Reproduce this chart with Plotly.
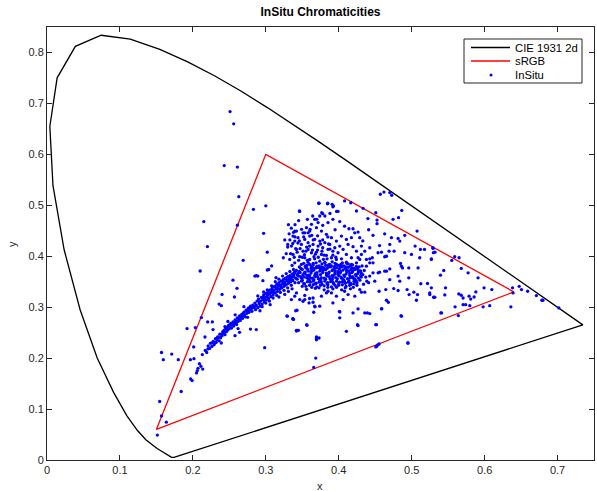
import plotly.graph_objects as go

# CIE 1931 2-degree spectral locus, 380-700 nm (5 nm)
cie_x = [0.1741,0.1740,0.1738,0.1736,0.1733,0.1730,0.1726,0.1721,0.1714,0.1703,0.1689,0.1669,0.1644,0.1611,0.1566,0.1510,
         0.1440,0.1355,0.1241,0.1096,0.0913,0.0687,0.0454,0.0235,0.0082,0.0039,0.0139,0.0389,0.0743,0.1142,0.1547,0.1929,
         0.2296,0.2658,0.3016,0.3373,0.3731,0.4087,0.4441,0.4788,0.5125,0.5448,0.5752,0.6029,0.6270,0.6482,0.6658,0.6801,
         0.6915,0.7006,0.7079,0.7140,0.7190,0.7230,0.7260,0.7283,0.7300,0.7311,0.7320,0.7327,0.7334,0.7340,0.7344,0.7346,0.7347,0.1741]
cie_y = [0.0050,0.0050,0.0049,0.0049,0.0048,0.0048,0.0048,0.0048,0.0051,0.0058,0.0069,0.0086,0.0109,0.0138,0.0177,0.0227,
         0.0297,0.0399,0.0578,0.0868,0.1327,0.2007,0.2950,0.4127,0.5384,0.6548,0.7502,0.8120,0.8338,0.8262,0.8059,0.7816,
         0.7543,0.7243,0.6923,0.6589,0.6245,0.5896,0.5547,0.5202,0.4866,0.4544,0.4242,0.3965,0.3725,0.3514,0.3340,0.3197,
         0.3083,0.2993,0.2920,0.2859,0.2809,0.2770,0.2740,0.2717,0.2700,0.2689,0.2680,0.2673,0.2666,0.2660,0.2656,0.2654,0.2653,0.0050]

# sRGB gamut triangle
srgb_x = [0.64, 0.30, 0.15, 0.64]
srgb_y = [0.33, 0.60, 0.06, 0.33]

legend_labels = ["CIE 1931 2d", "sRGB", "InSitu"]

# InSitu chromaticities, grouped by region
pts_isolated = [(0.251,0.684),(0.256,0.660),(0.243,0.578),(0.261,0.575),(0.263,0.517),(0.283,0.492),(0.300,0.499),(0.215,0.468),
    (0.261,0.461),(0.220,0.419),(0.210,0.371),(0.269,0.392),(0.287,0.362),(0.302,0.373),(0.308,0.381),(0.255,0.353),(0.2605,0.337),
    (0.285,0.361),(0.296,0.352),(0.240,0.325),(0.257,0.320),(0.236,0.306),(0.239,0.303),(0.297,0.445),(0.302,0.408),(0.304,0.374),
    (0.289,0.361),(0.330,0.423),(0.3397,0.449),(0.3534,0.446)]

pts_tail = [(0.157,0.211),(0.1595,0.197),(0.171,0.208),(0.180,0.197),(0.1966,0.197),(0.2015,0.199),(0.213,0.207),(0.209,0.189),
    (0.2135,0.1785),(0.207,0.180),(0.205,0.171),(0.197,0.159),(0.199,0.156),(0.184,0.1345),(0.1545,0.1148),(0.157,0.0866),
    (0.1636,0.0742),(0.1513,0.049),(0.192,0.258),(0.2034,0.260),(0.2117,0.2795),(0.2011,0.222),(0.2207,0.218),(0.217,0.215),
    (0.219,0.211),(0.206,0.175),(0.211,0.184),(0.2166,0.2415),(0.234,0.2415),(0.2203,0.271),(0.2267,0.271),(0.2276,0.256),
    (0.2985,0.2205),(0.3296,0.282),(0.342,0.2545),(0.338,0.276),(0.287,0.256),(0.279,0.257),(0.264,0.2506),(0.2578,0.244),
    (0.239,0.2297),(0.342,0.253),(0.329,0.283),(0.337,0.2775)]

pts_band_low = [(0.221,0.224),(0.223,0.219),(0.224,0.229),(0.226,0.223),(0.228,0.233),(0.229,0.226),(0.231,0.238),(0.232,0.231),
    (0.233,0.236),(0.235,0.241),(0.236,0.234),(0.237,0.247),(0.238,0.240),(0.240,0.244),(0.241,0.252),(0.242,0.249),(0.243,0.255),
    (0.244,0.246),(0.245,0.258),(0.246,0.252),(0.247,0.261),(0.248,0.255),(0.249,0.264),(0.250,0.258),(0.251,0.262),(0.252,0.268),
    (0.253,0.259),(0.254,0.265),(0.255,0.271),(0.256,0.263),(0.257,0.268),(0.258,0.275),(0.259,0.270),(0.260,0.266),(0.261,0.279),
    (0.262,0.272),(0.263,0.276),(0.264,0.283),(0.265,0.274),(0.266,0.280),(0.267,0.286),(0.268,0.278),(0.269,0.283),(0.270,0.290),
    (0.271,0.285),(0.272,0.281),(0.273,0.294),(0.274,0.288),(0.275,0.292),(0.276,0.298),(0.277,0.290),(0.278,0.295),(0.279,0.302),
    (0.280,0.297),(0.281,0.292),(0.282,0.304),(0.283,0.299),(0.248,0.272),(0.262,0.258),(0.270,0.301),(0.275,0.280),(0.258,0.285),
    (0.244,0.262),(0.226,0.230),(0.230,0.229),(0.234,0.240),(0.239,0.247),(0.243,0.250),(0.247,0.257),(0.251,0.266),(0.256,0.270),
    (0.260,0.273),(0.265,0.279),(0.269,0.288),(0.274,0.293),(0.278,0.299),(0.281,0.300)]

pts_band_mid = [(0.284,0.300),(0.285,0.308),(0.286,0.295),(0.287,0.304),(0.288,0.312),(0.289,0.299),(0.290,0.316),(0.291,0.307),
    (0.292,0.302),(0.293,0.312),(0.294,0.319),(0.295,0.306),(0.296,0.315),(0.297,0.324),(0.298,0.310),(0.299,0.319),(0.300,0.327),
    (0.301,0.314),(0.302,0.322),(0.303,0.331),(0.304,0.317),(0.305,0.326),(0.306,0.334),(0.307,0.321),(0.308,0.329),(0.309,0.338),
    (0.310,0.324),(0.311,0.333),(0.312,0.341),(0.313,0.328),(0.314,0.336),(0.315,0.345),(0.316,0.331),(0.317,0.340),(0.318,0.348),
    (0.319,0.335),(0.320,0.343),(0.321,0.351),(0.322,0.338),(0.323,0.346),(0.324,0.354),(0.325,0.341),(0.326,0.349),(0.327,0.357),
    (0.328,0.344),(0.329,0.352),(0.330,0.360),(0.331,0.347),(0.332,0.355),(0.333,0.362),(0.334,0.350),(0.335,0.358),(0.336,0.365),
    (0.337,0.352),(0.338,0.360),(0.339,0.368),(0.340,0.348),(0.295,0.301),(0.300,0.308),(0.305,0.312),(0.310,0.318),(0.315,0.323),
    (0.320,0.329),(0.325,0.333),(0.330,0.338),(0.335,0.343),(0.302,0.334),(0.308,0.342),(0.313,0.350),(0.318,0.355),(0.323,0.361),
    (0.328,0.366),(0.333,0.370),(0.338,0.374),(0.289,0.322),(0.297,0.330),(0.314,0.358),(0.326,0.325),(0.318,0.320),(0.306,0.305),
    (0.292,0.293),(0.331,0.331),(0.336,0.336),(0.286,0.303),(0.291,0.311),(0.296,0.319),(0.301,0.320),(0.306,0.328),(0.311,0.329),
    (0.316,0.337),(0.321,0.340),(0.326,0.345),(0.331,0.352),(0.336,0.354),(0.298,0.315),(0.303,0.325),(0.308,0.334),(0.313,0.340),
    (0.318,0.343),(0.323,0.351),(0.328,0.355),(0.333,0.357),(0.338,0.363)]

pts_core = [(0.352,0.386),(0.360,0.384),(0.369,0.387),(0.377,0.385),(0.386,0.383),(0.395,0.386),(0.403,0.384),(0.411,0.386),
    (0.419,0.383),(0.346,0.379),(0.355,0.377),(0.363,0.380),(0.372,0.378),(0.380,0.376),(0.389,0.379),(0.397,0.377),(0.405,0.380),
    (0.413,0.378),(0.421,0.376),(0.428,0.379),(0.342,0.372),(0.350,0.374),(0.358,0.371),(0.366,0.373),(0.374,0.371),(0.382,0.374),
    (0.391,0.372),(0.399,0.370),(0.406,0.373),(0.414,0.371),(0.422,0.374),(0.430,0.371),(0.339,0.366),(0.347,0.368),(0.354,0.365),
    (0.362,0.367),(0.370,0.365),(0.378,0.368),(0.386,0.366),(0.394,0.364),(0.402,0.367),(0.410,0.365),(0.418,0.368),(0.426,0.366),
    (0.433,0.364),(0.337,0.360),(0.345,0.361),(0.352,0.359),(0.360,0.362),(0.368,0.360),(0.376,0.358),(0.384,0.361),(0.392,0.359),
    (0.400,0.362),(0.408,0.360),(0.416,0.358),(0.424,0.361),(0.431,0.359),(0.336,0.354),(0.343,0.355),(0.350,0.353),(0.358,0.356),
    (0.366,0.354),(0.374,0.352),(0.382,0.355),(0.390,0.353),(0.398,0.356),(0.406,0.354),(0.414,0.352),(0.422,0.355),(0.429,0.353),
    (0.345,0.348),(0.353,0.346),(0.361,0.349),(0.369,0.347),(0.377,0.345),(0.385,0.348),(0.393,0.346),(0.401,0.349),(0.409,0.347),
    (0.417,0.345),(0.425,0.348),(0.350,0.341),(0.360,0.343),(0.370,0.340),(0.380,0.342),(0.390,0.340),(0.400,0.343),(0.410,0.341),
    (0.420,0.339),(0.356,0.335),(0.368,0.337),(0.380,0.334),(0.392,0.336),(0.404,0.334),(0.416,0.336),(0.356,0.382),(0.365,0.383),
    (0.373,0.381),(0.382,0.382),(0.390,0.381),(0.399,0.382),(0.407,0.381),(0.416,0.381),(0.424,0.380),(0.346,0.370),(0.354,0.369),
    (0.362,0.370),(0.370,0.368),(0.378,0.371),(0.387,0.369),(0.395,0.368),(0.403,0.370),(0.411,0.369),(0.419,0.370),(0.427,0.369),
    (0.341,0.357),(0.349,0.357),(0.356,0.358),(0.364,0.357),(0.372,0.356),(0.380,0.357),(0.388,0.356),(0.396,0.358),(0.404,0.357),
    (0.412,0.356),(0.420,0.357),(0.427,0.357),(0.349,0.351),(0.357,0.350),(0.365,0.351),(0.373,0.349),(0.381,0.351),(0.389,0.350),
    (0.397,0.351),(0.405,0.350),(0.413,0.349),(0.421,0.351),(0.365,0.344),(0.375,0.343),(0.385,0.344),(0.395,0.343),(0.405,0.344),
    (0.415,0.343),(0.425,0.343),(0.343,0.363),(0.351,0.364),(0.359,0.363),(0.367,0.362),(0.375,0.364),(0.383,0.363),(0.391,0.362),
    (0.399,0.364),(0.407,0.363),(0.415,0.362),(0.423,0.364),(0.430,0.362),(0.348,0.376),(0.357,0.375),(0.366,0.376),(0.375,0.375),
    (0.384,0.376),(0.393,0.374),(0.401,0.375),(0.409,0.376),(0.417,0.374),(0.425,0.375),
    (0.340,0.369),(0.344,0.366),(0.348,0.360),(0.353,0.368),(0.357,0.362),(0.361,0.357),(0.364,0.372),(0.368,0.366),(0.371,0.360),
    (0.375,0.355),(0.379,0.373),(0.383,0.367),(0.387,0.360),(0.391,0.355),(0.395,0.371),(0.399,0.366),(0.403,0.359),(0.407,0.353),
    (0.411,0.372),(0.415,0.366),(0.419,0.360),(0.423,0.352),(0.427,0.372),(0.431,0.367),(0.354,0.380),(0.362,0.376),(0.370,0.380),
    (0.378,0.378),(0.386,0.379),(0.394,0.377),(0.402,0.378),(0.410,0.379),(0.418,0.377),(0.426,0.378),(0.352,0.346),(0.360,0.352),
    (0.368,0.346),(0.376,0.350),(0.384,0.346),(0.392,0.349),(0.400,0.346),(0.408,0.350),(0.416,0.347),(0.424,0.351),(0.355,0.341),
    (0.363,0.339),(0.373,0.338),(0.385,0.339),(0.397,0.339),(0.409,0.338),(0.421,0.346),(0.413,0.385),(0.405,0.387),(0.397,0.384),
    (0.381,0.387),(0.365,0.386),(0.358,0.388)]

pts_upper = [(0.3465,0.488),(0.373,0.504),(0.3845,0.503),(0.391,0.502),(0.392,0.497),(0.388,0.484),(0.399,0.488),(0.378,0.4836),
    (0.381,0.479),(0.374,0.479),(0.367,0.4724),(0.3717,0.466),(0.3626,0.4626),(0.3694,0.456),(0.378,0.4606),(0.3853,0.466),
    (0.392,0.4724),(0.4014,0.468),(0.408,0.459),(0.414,0.454),(0.4196,0.454),(0.422,0.446),(0.4265,0.4475),(0.4288,0.4364),
    (0.4174,0.4364),(0.4105,0.433),(0.4037,0.4396),(0.3968,0.4298),(0.390,0.4364),(0.3831,0.443),(0.3763,0.4494),(0.3602,0.4494),
    (0.3557,0.456),(0.351,0.446),(0.342,0.4494),(0.3373,0.4396),(0.3442,0.4364),(0.3534,0.433),(0.3602,0.4396),(0.367,0.433),
    (0.374,0.4298),(0.381,0.4266),(0.3877,0.4232),(0.3946,0.4167),(0.4014,0.420),(0.406,0.4134),(0.4128,0.4232),(0.4196,0.4187),
    (0.4243,0.410),(0.4311,0.420),(0.4357,0.410),(0.4311,0.4035),(0.438,0.3937),(0.4265,0.397),(0.4174,0.397),(0.4105,0.4035),
    (0.399,0.4068),(0.392,0.410),(0.3853,0.4134),(0.378,0.4167),(0.3717,0.420),(0.3648,0.4232),(0.358,0.4266),(0.3488,0.4232),
    (0.3397,0.4298),(0.3351,0.420),(0.342,0.4134),(0.351,0.410),(0.358,0.4134),(0.3626,0.4068),(0.3694,0.408),(0.3763,0.4035),
    (0.3831,0.4016),(0.390,0.397),(0.3968,0.3937),(0.4037,0.395),(0.4105,0.3884),(0.4174,0.3839),(0.4243,0.387),(0.3373,0.4035),
    (0.3465,0.399),(0.3534,0.397),(0.3602,0.3937),(0.367,0.395),(0.374,0.3904),(0.381,0.3884),(0.3877,0.3839),(0.3946,0.3805),
    (0.4014,0.382),(0.3328,0.3937),(0.3397,0.387),(0.3488,0.3839),(0.3557,0.3805),(0.3626,0.3805),(0.3694,0.3773),(0.3763,0.379),
    (0.335,0.455),(0.340,0.462),(0.345,0.470),(0.338,0.447),(0.332,0.444),(0.326,0.432),(0.330,0.418),(0.328,0.405),(0.324,0.397),
    (0.331,0.462),(0.3927,0.4987),(0.397,0.488),(0.357,0.4724),(0.3643,0.479),(0.3767,0.4856),(0.370,0.4724),(0.3607,0.4528),
    (0.349,0.4528),(0.3725,0.504),(0.385,0.504),(0.346,0.489),(0.344,0.426),(0.356,0.418),(0.371,0.412),(0.386,0.424),(0.363,0.441),
    (0.353,0.403),(0.366,0.399),(0.345,0.392),(0.379,0.394),(0.391,0.389),(0.336,0.382),
    (0.334,0.405),(0.339,0.398),(0.343,0.408),(0.347,0.415),(0.350,0.398),(0.355,0.410),(0.357,0.392),(0.360,0.420),(0.364,0.412),
    (0.368,0.404),(0.372,0.398),(0.375,0.424),(0.377,0.410),(0.380,0.402),(0.384,0.395),(0.388,0.414),(0.392,0.402),(0.396,0.398),
    (0.340,0.438),(0.346,0.430),(0.352,0.438),(0.358,0.446),(0.365,0.432),(0.371,0.440),(0.378,0.432),(0.385,0.438),(0.395,0.452),
    (0.337,0.425),(0.341,0.415),(0.333,0.432)]

pts_right = [(0.408,0.5085),(0.4165,0.505),(0.4334,0.494),(0.4243,0.4888),(0.4508,0.4856),(0.457,0.5217),(0.462,0.526),
    (0.470,0.525),(0.4727,0.5197),(0.4864,0.490),(0.482,0.4757),(0.4745,0.4724),(0.4525,0.471),(0.4525,0.464),(0.440,0.474),
    (0.463,0.444),(0.4723,0.4364),(0.4814,0.435),(0.4905,0.441),(0.4837,0.4298),(0.5074,0.4494),(0.5047,0.420),(0.512,0.4134),
    (0.5176,0.4134),(0.511,0.397),(0.5294,0.4153),(0.5298,0.407),(0.470,0.4232),(0.469,0.410),(0.4586,0.408),(0.4539,0.4068),
    (0.463,0.399),(0.446,0.397),(0.4425,0.4167),(0.456,0.421),(0.4997,0.4035),(0.496,0.377),(0.5088,0.377),(0.470,0.375),
    (0.4654,0.3707),(0.486,0.3805),(0.456,0.3687),(0.4814,0.361),(0.4425,0.387),(0.433,0.430),(0.441,0.452),(0.447,0.441),
    (0.529,0.4167),(0.532,0.408),(0.527,0.3937),(0.559,0.399),(0.565,0.397),(0.555,0.3917),(0.544,0.372),(0.5395,0.3628),
    (0.568,0.376),(0.5774,0.3675),(0.591,0.3577),(0.5464,0.338),(0.5993,0.338),(0.6099,0.3346),(0.527,0.338),(0.5248,0.3248),
    (0.530,0.3195),(0.5454,0.324),(0.5646,0.326),(0.568,0.3234),(0.5705,0.318),(0.5787,0.3215),(0.5856,0.320),(0.588,0.330),
    (0.581,0.316),(0.5705,0.305),(0.574,0.305),(0.5797,0.303),(0.5595,0.3006),(0.598,0.3006),(0.607,0.303),(0.636,0.3006),
    (0.541,0.2887),(0.6383,0.338),(0.639,0.328),(0.6474,0.341),(0.6506,0.3346),(0.659,0.3313),(0.671,0.3228),(0.6785,0.3136),
    (0.680,0.3136),(0.7018,0.2986),(0.4311,0.3294),(0.4357,0.3294),(0.4553,0.3313),(0.4645,0.3346),(0.4754,0.3366),(0.4814,0.3327),
    (0.4937,0.3346),(0.4965,0.3248),(0.503,0.3294),(0.508,0.3248),(0.5125,0.346),(0.5217,0.3465),(0.5248,0.328),(0.5065,0.3136),
    (0.5317,0.3195),(0.4654,0.3136),(0.468,0.3097),(0.4586,0.2966),(0.486,0.282),(0.4517,0.2657),(0.4425,0.2874),(0.4357,0.2887),
    (0.4265,0.2966),(0.4196,0.2887),(0.4265,0.2638),(0.4105,0.2526),(0.4014,0.2907),(0.4014,0.279),(0.441,0.348),(0.4385,0.351),
    (0.4494,0.351),(0.447,0.3675),(0.4425,0.361),(0.454,0.3675),(0.438,0.3805),(0.463,0.3707),(0.470,0.354),(0.4837,0.351),
    (0.4847,0.3858),(0.496,0.3577),(0.4874,0.377),(0.4425,0.395),(0.4288,0.3937),(0.447,0.387),(0.4654,0.400),(0.4759,0.410),
    (0.4905,0.407),(0.527,0.395),(0.435,0.372),(0.432,0.381),(0.437,0.359),(0.434,0.345),(0.4393,0.2887),(0.401,0.2919),
    (0.540,0.2887),(0.564,0.2835),(0.4855,0.2835),(0.459,0.297),(0.4508,0.2657),(0.4257,0.2657)]

pts_below = [(0.3657,0.290),(0.3565,0.2644),(0.3428,0.294),(0.3373,0.277),(0.3428,0.2546),(0.3694,0.2415),(0.373,0.2395),
    (0.3694,0.238),(0.4517,0.223),(0.4553,0.2277),(0.495,0.2297),(0.367,0.302),(0.3593,0.3084),(0.351,0.3116),(0.3853,0.3313),
    (0.390,0.328),(0.408,0.3313),(0.4288,0.3346),(0.341,0.293),(0.3534,0.315),(0.360,0.317),(0.3648,0.3097),(0.3685,0.200),
    (0.3657,0.1817),(0.4508,0.222),(0.4535,0.2258),(0.4947,0.2297),(0.3694,0.236),(0.356,0.2657),(0.3675,0.3006),(0.3447,0.2546),
    (0.3397,0.3215),(0.3465,0.315),(0.3534,0.323),(0.3648,0.318),(0.3763,0.3215),(0.3831,0.328),(0.3968,0.3215),(0.4128,0.3248),
    (0.422,0.3215),(0.406,0.315),(0.392,0.3084),(0.374,0.302),(0.3351,0.315),(0.342,0.328)]

insitu = pts_isolated + pts_tail + pts_band_low + pts_band_mid + pts_core + pts_upper + pts_right + pts_below
insitu_x = [p[0] for p in insitu]
insitu_y = [p[1] for p in insitu]

FONT = "Arial, Liberation Sans, Helvetica, sans-serif"
TXT = "#262626"

fig = go.Figure()
fig.add_trace(go.Scatter(x=cie_x, y=cie_y, mode="lines", name=legend_labels[0],
                         line=dict(color="black", width=1.3), showlegend=False))
fig.add_trace(go.Scatter(x=srgb_x, y=srgb_y, mode="lines", name=legend_labels[1],
                         line=dict(color="red", width=1.3), showlegend=False))
fig.add_trace(go.Scatter(x=insitu_x, y=insitu_y, mode="markers", name=legend_labels[2],
                         marker=dict(color="blue", size=3.3, line=dict(width=0)), showlegend=False))

axis_common = dict(showgrid=False, zeroline=False, showline=True, linecolor=TXT, linewidth=1,
                   mirror="ticks", ticks="inside", ticklen=5, tickcolor=TXT, automargin=False,
                   tickfont=dict(family=FONT, size=11, color=TXT))

# Plot-area geometry used to place the compact MATLAB-style legend and axis labels
L_W, L_H = 547.0, 433.0
def px_x(p):
    return (p - 47) / L_W
def px_y(p):
    return (460 - p) / L_H

shapes = [dict(type="rect", xref="paper", yref="paper", x0=px_x(464), x1=px_x(582), y0=px_y(83), y1=px_y(39),
               line=dict(color=TXT, width=1), fillcolor="white", layer="above"),
          dict(type="line", xref="paper", yref="paper", x0=px_x(471), x1=px_x(510), y0=px_y(47.5), y1=px_y(47.5),
               line=dict(color="black", width=1.3), layer="above"),
          dict(type="line", xref="paper", yref="paper", x0=px_x(471), x1=px_x(510), y0=px_y(61), y1=px_y(61),
               line=dict(color="red", width=1.3), layer="above"),
          dict(type="circle", xref="paper", yref="paper", x0=px_x(489.5), x1=px_x(492.5), y0=px_y(76.5), y1=px_y(73.5),
               line=dict(width=0), fillcolor="blue", layer="above")]
annotations = []
for lbl, yy in zip(legend_labels, [47.5, 61, 75]):
    annotations.append(dict(text=lbl, xref="paper", yref="paper", x=px_x(513), y=px_y(yy), xanchor="left",
                            yanchor="middle", showarrow=False, font=dict(family=FONT, size=11.3, color="black")))
annotations.append(dict(text="x", xref="paper", yref="paper", x=px_x(320), y=px_y(486), xanchor="center",
                        yanchor="middle", showarrow=False, font=dict(family=FONT, size=11, color=TXT)))
annotations.append(dict(text="y", xref="paper", yref="paper", x=px_x(12), y=px_y(244), xanchor="center",
                        yanchor="middle", showarrow=False, textangle=-90, font=dict(family=FONT, size=11, color=TXT)))

fig.update_layout(
    width=597, height=491,
    margin=dict(l=47, r=3, t=27, b=31),
    paper_bgcolor="white", plot_bgcolor="white",
    font=dict(family=FONT, size=11, color=TXT),
    title=dict(text="<b>InSitu Chromaticities</b>", x=0.5, xref="paper", y=0.975, yanchor="middle",
               font=dict(family=FONT, size=12, color="black")),
    xaxis=dict(range=[0, 0.75], dtick=0.1, tick0=0, tickformat="~g", **axis_common),
    yaxis=dict(range=[0, 0.85], dtick=0.1, tick0=0, tickformat="~g", **axis_common),
    shapes=shapes,
    annotations=annotations,
    showlegend=False,
)

fig.write_html("out.html")
